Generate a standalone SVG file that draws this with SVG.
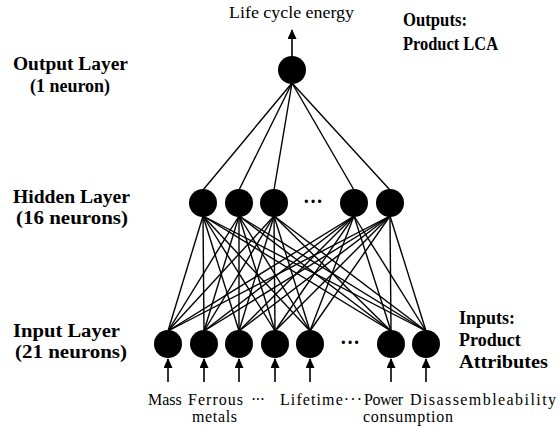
<svg xmlns="http://www.w3.org/2000/svg" width="559" height="426" viewBox="0 0 559 426">
<style>
.n{fill:#000}
.c{stroke:#000;stroke-width:1.4;fill:none}
.a{stroke:#000;stroke-width:1.6;fill:none;marker-end:url(#ah)}
.t{font-family:"Liberation Serif","Times New Roman",serif;font-size:16px;fill:#000}
.b{font-family:"Liberation Serif","Times New Roman",serif;font-size:18px;font-weight:bold;fill:#000}
</style>
<defs>
<marker id="ah" markerUnits="userSpaceOnUse" viewBox="0 0 10 10" markerWidth="10" markerHeight="9" refX="9" refY="5" orient="auto" preserveAspectRatio="none">
<path d="M0,0 L10,5 L0,10 z" fill="#000"/>
</marker>
</defs>
<rect width="559" height="426" fill="#fff"/>
<g id="connectors">
<line class="c" x1="292" y1="83" x2="203" y2="190"/>
<line class="c" x1="292" y1="83" x2="239" y2="190"/>
<line class="c" x1="292" y1="83" x2="274" y2="190"/>
<line class="c" x1="292" y1="83" x2="354" y2="190"/>
<line class="c" x1="292" y1="83" x2="390" y2="190"/>
<g id="h1-links">
<line class="c" x1="203" y1="216" x2="168" y2="331"/><line class="c" x1="203" y1="216" x2="204" y2="331"/><line class="c" x1="203" y1="216" x2="239" y2="331"/><line class="c" x1="203" y1="216" x2="275" y2="331"/><line class="c" x1="203" y1="216" x2="310" y2="331"/><line class="c" x1="203" y1="216" x2="391" y2="331"/><line class="c" x1="203" y1="216" x2="426" y2="331"/>
</g>
<g id="h2-links">
<line class="c" x1="239" y1="216" x2="168" y2="331"/><line class="c" x1="239" y1="216" x2="204" y2="331"/><line class="c" x1="239" y1="216" x2="239" y2="331"/><line class="c" x1="239" y1="216" x2="275" y2="331"/><line class="c" x1="239" y1="216" x2="310" y2="331"/><line class="c" x1="239" y1="216" x2="391" y2="331"/><line class="c" x1="239" y1="216" x2="426" y2="331"/>
</g>
<g id="h3-links">
<line class="c" x1="274" y1="216" x2="168" y2="331"/><line class="c" x1="274" y1="216" x2="204" y2="331"/><line class="c" x1="274" y1="216" x2="239" y2="331"/><line class="c" x1="274" y1="216" x2="275" y2="331"/><line class="c" x1="274" y1="216" x2="310" y2="331"/><line class="c" x1="274" y1="216" x2="391" y2="331"/><line class="c" x1="274" y1="216" x2="426" y2="331"/>
</g>
<g id="h4-links">
<line class="c" x1="354" y1="216" x2="168" y2="331"/><line class="c" x1="354" y1="216" x2="204" y2="331"/><line class="c" x1="354" y1="216" x2="239" y2="331"/><line class="c" x1="354" y1="216" x2="275" y2="331"/><line class="c" x1="354" y1="216" x2="310" y2="331"/><line class="c" x1="354" y1="216" x2="391" y2="331"/><line class="c" x1="354" y1="216" x2="426" y2="331"/>
</g>
<g id="h5-links">
<line class="c" x1="390" y1="216" x2="168" y2="331"/><line class="c" x1="390" y1="216" x2="204" y2="331"/><line class="c" x1="390" y1="216" x2="239" y2="331"/><line class="c" x1="390" y1="216" x2="275" y2="331"/><line class="c" x1="390" y1="216" x2="310" y2="331"/><line class="c" x1="390" y1="216" x2="391" y2="331"/><line class="c" x1="390" y1="216" x2="426" y2="331"/>
</g>
<line class="a" x1="292" y1="57" x2="292" y2="30"/>
<line class="a" x1="168" y1="382" x2="168" y2="359"/>
<line class="a" x1="204" y1="382" x2="204" y2="359"/>
<line class="a" x1="239" y1="382" x2="239" y2="359"/>
<line class="a" x1="275" y1="382" x2="275" y2="359"/>
<line class="a" x1="310" y1="382" x2="310" y2="359"/>
<line class="a" x1="391" y1="382" x2="391" y2="359"/>
<line class="a" x1="426" y1="382" x2="426" y2="359"/>
</g>
<g id="output-neuron"><circle class="n" cx="292" cy="70" r="14"/></g>
<g id="hidden-1"><circle class="n" cx="203" cy="203" r="14"/></g>
<g id="hidden-2"><circle class="n" cx="239" cy="203" r="14"/></g>
<g id="hidden-3"><circle class="n" cx="274" cy="203" r="14"/></g>
<g id="hidden-dots"><text class="t" x="313" y="208" text-anchor="middle" style="font-size:20px;font-weight:bold">···</text></g>
<g id="hidden-15"><circle class="n" cx="354" cy="203" r="14"/></g>
<g id="hidden-16"><circle class="n" cx="390" cy="203" r="14"/></g>
<g id="input-1"><circle class="n" cx="168" cy="344" r="14"/></g>
<g id="input-2"><circle class="n" cx="204" cy="344" r="14"/></g>
<g id="input-3"><circle class="n" cx="239" cy="344" r="14"/></g>
<g id="input-4"><circle class="n" cx="275" cy="344" r="14"/></g>
<g id="input-5"><circle class="n" cx="310" cy="344" r="14"/></g>
<g id="input-dots"><text class="t" x="350" y="349" text-anchor="middle" style="font-size:20px;font-weight:bold">···</text></g>
<g id="input-20"><circle class="n" cx="391" cy="344" r="14"/></g>
<g id="input-21"><circle class="n" cx="426" cy="344" r="14"/></g>
<g id="labels">
<text class="t" x="229" y="18" textLength="125" lengthAdjust="spacingAndGlyphs">Life cycle energy</text>
<text class="b" x="403" y="26" textLength="64" lengthAdjust="spacingAndGlyphs">Outputs:</text>
<text class="b" x="403" y="50" textLength="95" lengthAdjust="spacingAndGlyphs">Product LCA</text>
<text class="b" x="13" y="70" textLength="115" lengthAdjust="spacingAndGlyphs">Output Layer</text>
<text class="b" x="30" y="92" textLength="80" lengthAdjust="spacingAndGlyphs">(1 neuron)</text>
<text class="b" x="13" y="203" textLength="117" lengthAdjust="spacingAndGlyphs">Hidden Layer</text>
<text class="b" x="16" y="224" textLength="112" lengthAdjust="spacingAndGlyphs">(16 neurons)</text>
<text class="b" x="13" y="337" textLength="107" lengthAdjust="spacingAndGlyphs">Input Layer</text>
<text class="b" x="15" y="358" textLength="112" lengthAdjust="spacingAndGlyphs">(21 neurons)</text>
<text class="b" x="459" y="324">Inputs:</text>
<text class="b" x="459" y="346">Product</text>
<text class="b" x="459" y="368" textLength="89" lengthAdjust="spacingAndGlyphs">Attributes</text>
<text class="t" x="148" y="405">Mass</text>
<text class="t" x="188" y="405" textLength="55" lengthAdjust="spacing">Ferrous</text>
<text class="t" x="251" y="405" textLength="14" lengthAdjust="spacing">···</text>
<text class="t" x="280" y="405" textLength="82" lengthAdjust="spacing">Lifetime···</text>
<text class="t" x="364" y="405" textLength="39" lengthAdjust="spacing">Power</text>
<text class="t" x="410" y="405" textLength="146" lengthAdjust="spacing">Disassembleability</text>
<text class="t" x="192" y="422" textLength="45" lengthAdjust="spacing">metals</text>
<text class="t" x="363" y="422" textLength="90" lengthAdjust="spacing">consumption</text>
</g>
</svg>
